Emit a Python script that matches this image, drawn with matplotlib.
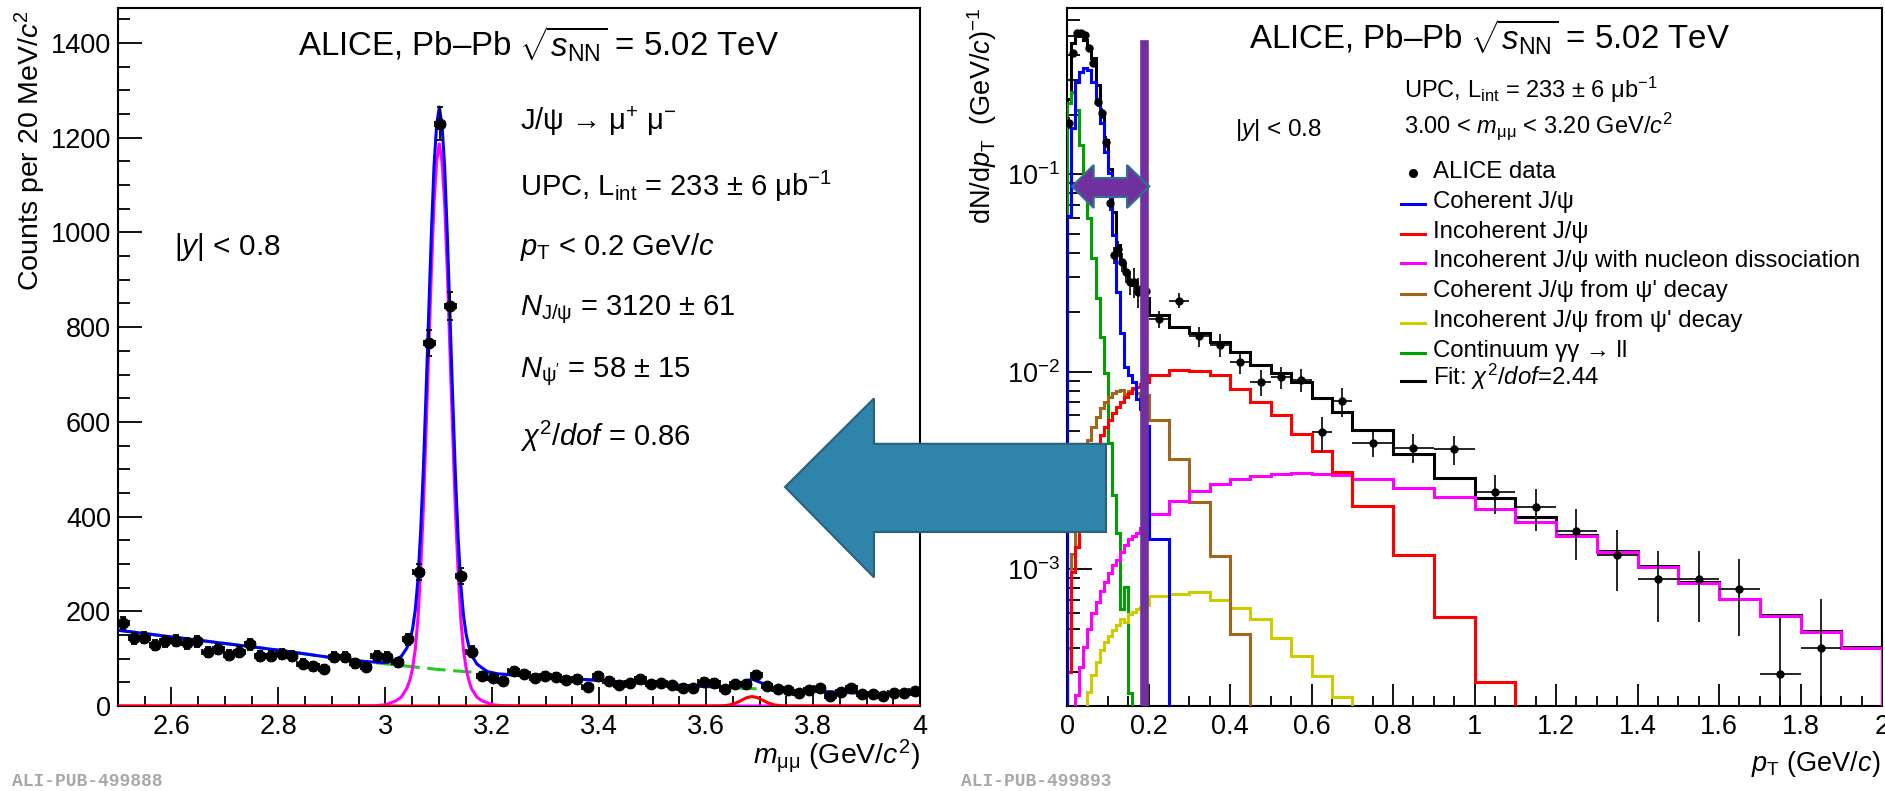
import numpy as np
import matplotlib
matplotlib.use("Agg")
import matplotlib.pyplot as plt
from matplotlib.lines import Line2D
from matplotlib.patches import Polygon
from matplotlib.ticker import (MultipleLocator, FormatStrFormatter, LogLocator,
                               LogFormatterMathtext, NullFormatter)

W, H = 1885, 791

plt.rcParams['font.family'] = ['Liberation Sans', 'DejaVu Sans']
plt.rcParams['mathtext.fontset'] = 'custom'
plt.rcParams['mathtext.rm'] = 'Liberation Sans'
plt.rcParams['mathtext.it'] = 'Liberation Sans:italic'
plt.rcParams['mathtext.bf'] = 'Liberation Sans:bold'


## LEFT PANEL : invariant mass

m_lo, m_hi, n_bins = 2.5, 4.0, 76

counts = [175, 143, 144, 129, 137, 138, 132, 137, 114, 120, 108, 115, 130, 106,
          106, 109, 106, 89, 84, 78, 104, 103, 90, 82, 106, 103, 92, 141,
          284, 767, 1230, 845, 275, 115,
          63, 60, 53,
          74, 68, 60, 63, 62, 55, 58, 41, 64, 53, 44, 48, 56, 46, 48, 44, 37,
          39, 51, 49, 35, 46, 46, 65, 42, 35, 34, 28, 34, 37, 22, 30, 39, 25,
          25, 21, 27, 27, 32]
counts_err = [13.2, 12, 12, 11.4, 11.7, 11.7, 11.5, 11.7, 10.7, 11, 10.4, 10.7,
              11.4, 10.3, 10.3, 10.4, 10.3, 9.4, 9.2, 8.8, 10.2, 10.1, 9.5, 9.1,
              10.3, 10.1, 9.6, 11.9, 16.9, 27.7, 35.1, 29.1, 16.6, 10.7,
              7.9, 7.7, 7.3, 8.6, 8.2, 7.7, 7.9, 7.9, 7.4, 7.6, 6.4, 8, 7.3, 6.6,
              6.9, 7.5, 6.8, 6.9, 6.6, 6.1, 6.2, 7.1, 7, 5.9, 6.8, 6.8, 8.1, 6.5,
              5.9, 5.8, 5.3, 5.8, 6.1, 4.7, 5.5, 6.2, 5, 5, 4.6, 5.2, 5.2, 5.7]

# background (green dashed)
bg_m = [2.5, 2.6, 2.7, 2.8, 2.9, 3.0, 3.1, 3.2, 3.3, 3.4, 3.5, 3.6, 3.7, 3.8, 3.9, 4.0]
bg_c = [160, 146, 132, 118, 102, 89, 77, 68, 61, 54, 47, 41, 36, 31, 27, 24]

# J/psi signal (magenta)
jpsi_m = [2.5, 2.96, 2.98, 3.00, 3.02, 3.03, 3.04, 3.046, 3.051, 3.056, 3.061,
          3.066, 3.071, 3.076, 3.081, 3.086, 3.091, 3.096, 3.101, 3.106, 3.111,
          3.116, 3.121, 3.126, 3.131, 3.136, 3.141, 3.146, 3.151, 3.156, 3.161,
          3.171, 3.181, 3.201, 3.221, 3.25, 4.0]
jpsi_c = [0, 0.3, 0.6, 2.5, 11, 19, 37, 55, 80, 120, 185, 285, 415, 575, 745,
          915, 1060, 1150, 1187, 1150, 1060, 915, 745, 575, 415, 285, 185, 120,
          80, 55, 37, 19, 11, 2.5, 0.6, 0, 0]

# psi(2S) signal (red)
psi2s_m = [2.5, 3.61, 3.626, 3.636, 3.646, 3.656, 3.666, 3.676, 3.686, 3.696,
           3.706, 3.716, 3.726, 3.736, 3.746, 3.76, 4.0]
psi2s_c = [0, 0, 0.2, 0.9, 2.7, 6.5, 12, 17.6, 20, 17.6, 12, 6.5, 2.7, 0.9, 0.2, 0, 0]

# total fit (blue)
total_m = [2.5, 2.6, 2.7, 2.8, 2.9, 2.96, 3.0, 3.02, 3.03, 3.04, 3.046, 3.051,
           3.056, 3.061, 3.066, 3.071, 3.076, 3.081, 3.086, 3.091, 3.096, 3.101,
           3.106, 3.111, 3.116, 3.121, 3.126, 3.131, 3.136, 3.141, 3.146, 3.151,
           3.156, 3.161, 3.171, 3.181, 3.191, 3.21, 3.3, 3.4, 3.5, 3.6, 3.626,
           3.646, 3.666, 3.686, 3.706, 3.726, 3.746, 3.8, 3.9, 4.0]
total_c = [160, 146, 132, 118, 102, 94, 91.5, 98, 105, 122, 139, 163, 203, 267,
           367, 496, 656, 825, 994, 1139, 1228, 1265, 1227, 1137, 991, 821, 650,
           490, 359, 258, 193, 152, 127, 108, 89, 80.5, 72.6, 68, 61, 54, 47, 41,
           40, 41.4, 49.7, 56.7, 47.7, 37.4, 33.9, 31, 27, 24]


## RIGHT PANEL : pT distribution

pt_edges = np.round(np.concatenate([np.arange(0, 0.2001, 0.01),
                                    np.arange(0.25, 0.7001, 0.05),
                                    np.arange(0.8, 2.0001, 0.1)]), 3)

h_coh = [0.061, 0.171, 0.294, 0.330, 0.344, 0.335, 0.294, 0.233, 0.181, 0.130,
         0.101, 0.0492, 0.0254, 0.0156, 0.0106, 0.0096, 0.0089, 0.0073, 0.0065, 0.0053,
         0.00143, 0, 0, 0, 0, 0, 0, 0, 0, 0,
         0, 0, 0, 0, 0, 0, 0, 0, 0, 0, 0, 0, 0]
h_incoh = [3.0e-4, 9.7e-4, 1.3e-3, 1.7e-3, 2.2e-3, 2.8e-3, 3.4e-3, 4.1e-3, 4.77e-3, 5.26e-3,
           5.69e-3, 6.15e-3, 6.59e-3, 7.04e-3, 7.41e-3, 7.82e-3, 8.22e-3, 8.4e-3, 8.7e-3, 8.9e-3,
           9.6e-3, 0.0102, 0.0101, 9.6e-3, 8.2e-3, 7.0e-3, 6.05e-3, 4.84e-3, 3.95e-3, 3.1e-3,
           2.1e-3, 1.18e-3, 5.75e-4, 2.68e-4, 0, 0, 0, 0, 0, 0, 0, 0, 0]
h_diss = [0, 0, 2.3e-4, 3.2e-4, 4.05e-4, 5.0e-4, 5.97e-4, 6.84e-4, 7.78e-4, 8.64e-4,
          9.6e-4, 1.05e-3, 1.11e-3, 1.22e-3, 1.32e-3, 1.42e-3, 1.47e-3, 1.53e-3, 1.61e-3, 1.67e-3,
          1.9e-3, 2.22e-3, 2.48e-3, 2.7e-3, 2.87e-3, 2.97e-3, 3.03e-3, 3.07e-3, 3.04e-3, 2.99e-3,
          2.85e-3, 2.59e-3, 2.31e-3, 2.01e-3, 1.74e-3, 1.47e-3, 1.22e-3, 1.03e-3, 8.53e-4,
          7.03e-4, 5.81e-4, 4.82e-4, 4.0e-4]
h_coh_feed = [4e-4, 1.2e-3, 1.9e-3, 2.6e-3, 3.5e-3, 4.5e-3, 5.26e-3, 5.91e-3, 6.52e-3, 7.04e-3,
              7.46e-3, 7.82e-3, 8.0e-3, 8.1e-3, 7.7e-3, 8.0e-3, 8.2e-3, 7.8e-3, 7.4e-3, 7.6e-3,
              5.69e-3, 3.6e-3, 2.18e-3, 1.16e-3, 4.69e-4, 0, 0, 0, 0, 0,
              0, 0, 0, 0, 0, 0, 0, 0, 0, 0, 0, 0, 0]
h_incoh_feed = [0, 0, 0, 0, 0, 2.4e-4, 2.9e-4, 3.4e-4, 3.9e-4, 4.3e-4,
                4.6e-4, 4.9e-4, 5.2e-4, 5.6e-4, 5.4e-4, 5.9e-4, 6.1e-4, 6.3e-4, 6.4e-4, 6.6e-4,
                7.31e-4, 7.53e-4, 7.69e-4, 6.98e-4, 6.33e-4, 5.57e-4, 4.46e-4, 3.63e-4, 2.88e-4, 2.25e-4,
                0, 0, 0, 0, 0, 0, 0, 0, 0, 0, 0, 0, 0]
h_gg = [0.23, 0.261, 0.211, 0.140, 0.0916, 0.0597, 0.0375, 0.0235, 0.0150, 0.0098,
        0.00433, 0.00237, 0.00152, 0.00063, 0.000815, 0.000235, 0, 0, 0, 0,
        0, 0, 0, 0, 0, 0, 0, 0, 0, 0,
        0, 0, 0, 0, 0, 0, 0, 0, 0, 0, 0, 0, 0]
h_fit = [0.24, 0.459, 0.502, 0.50, 0.477, 0.434, 0.386, 0.282, 0.207, 0.149,
         0.106, 0.064, 0.0438, 0.036, 0.0315, 0.0291, 0.0274, 0.0259, 0.0249, 0.0235,
         0.0194, 0.0169, 0.0156, 0.0142, 0.0126, 0.0108, 0.0098, 0.0089, 0.00733, 0.00627,
         0.00506, 0.00383, 0.0029, 0.00228, 0.00184, 0.00149, 0.00124, 0.00104, 0.00086,
         0.00071, 0.000585, 0.000485, 0.000402]

pt_val = [0.182, 0.409, 0.516, 0.516, 0.506, 0.434, 0.364, 0.231, 0.203, 0.146,
          0.0711, 0.0389, 0.042, 0.036, 0.0321, 0.0285, 0.0285, 0.0254, 0.0264, 0.0256,
          0.0185, 0.0229, 0.0151, 0.0137, 0.0112, 0.00887, 0.0094, 0.0091, 0.00492, 0.0071,
          0.00433, 0.00413, 0.00406, 0.00246, 0.00206, 0.00156, 0.00118, 0.000889,
          0.000889, 0.000791, 0.000296, 0.000397]
pt_err = [0.012, 0.018, 0.02, 0.02, 0.02, 0.018, 0.016, 0.013, 0.012, 0.01,
          0.006, 0.004, 0.004, 0.004, 0.004, 0.004, 0.005, 0.0045, 0.0045, 0.004,
          0.0018, 0.002, 0.0018, 0.0018, 0.0015, 0.0013, 0.0012, 0.0012, 0.001, 0.0012,
          0.00065, 0.0007, 0.00068, 0.00055, 0.0005, 0.00045, 0.0004, 0.00035,
          0.00035, 0.00033, 0.00028, 0.00031]

legend_labels = ["ALICE data", "Coherent J/ψ", "Incoherent J/ψ",
                 "Incoherent J/ψ with nucleon dissociation",
                 "Coherent J/ψ from ψ' decay", "Incoherent J/ψ from ψ' decay",
                 "Continuum γγ → ll", r"Fit: $\chi^{2}/dof$=2.44"]


## FIGURE

def fx(px):
    return px / W


def fy(py):
    return 1 - py / H


fig = plt.figure(figsize=(W / 100, H / 100), dpi=100)
ax1 = fig.add_axes([fx(118), fy(706), (920 - 118) / W, 698 / H])
ax2 = fig.add_axes([fx(1067), fy(706), (1882 - 1067) / W, 698 / H])

# left panel
edges = np.linspace(m_lo, m_hi, n_bins + 1)
centers = 0.5 * (edges[:-1] + edges[1:])
half = 0.5 * (edges[1] - edges[0])

ax1.plot(bg_m, bg_c, color="#22cc22", lw=2.2, ls=(0, (6, 2.5)), zorder=2)
ax1.plot(jpsi_m, jpsi_c, color="#ff00ff", lw=2.2, zorder=3)
ax1.plot(total_m, total_c, color="#0000ff", lw=2.2, zorder=4)
ax1.plot(psi2s_m, psi2s_c, color="#ff0000", lw=2.2, zorder=5)
ax1.errorbar(centers, counts, yerr=counts_err, xerr=half, fmt="o", color="black",
             ms=7.5, elinewidth=1.3, capsize=2.2, capthick=1.3, zorder=6)

ax1.set_xlim(m_lo, m_hi)
ax1.set_ylim(0, 1474)
ax1.xaxis.set_major_locator(MultipleLocator(0.2))
ax1.xaxis.set_minor_locator(MultipleLocator(0.05))
ax1.xaxis.set_major_formatter(FormatStrFormatter("%g"))
ax1.yaxis.set_major_locator(MultipleLocator(200))
ax1.yaxis.set_minor_locator(MultipleLocator(50))
ax1.tick_params(axis="both", which="both", direction="in", top=False, right=False,
                labelsize=19.5, width=1.3)
ax1.tick_params(axis="y", which="major", length=17, pad=5)
ax1.tick_params(axis="y", which="minor", length=8.5)
ax1.tick_params(axis="x", which="major", length=14, pad=6)
ax1.tick_params(axis="x", which="minor", length=7)

# right panel
fl = 1e-6  # empty bins drawn below the axis
pt_c = 0.5 * (pt_edges[:-1] + pt_edges[1:])[:len(pt_val)]
pt_w = 0.5 * (pt_edges[1:] - pt_edges[:-1])[:len(pt_val)]

ax2.stairs(np.clip(h_fit, fl, None), pt_edges, baseline=fl, color="black", lw=2.2, zorder=2)
ax2.stairs(np.clip(h_gg, fl, None), pt_edges, baseline=fl, color="#00a000", lw=2.2, zorder=3)
ax2.stairs(np.clip(h_incoh_feed, fl, None), pt_edges, baseline=fl, color="#cccc00", lw=2.2, zorder=3)
ax2.stairs(np.clip(h_coh_feed, fl, None), pt_edges, baseline=fl, color="#a0661c", lw=2.2, zorder=3)
ax2.stairs(np.clip(h_diss, fl, None), pt_edges, baseline=fl, color="#ff00ff", lw=2.2, zorder=3)
ax2.stairs(np.clip(h_incoh, fl, None), pt_edges, baseline=fl, color="#ff0000", lw=2.2, zorder=3)
ax2.stairs(np.clip(h_coh, fl, None), pt_edges, baseline=fl, color="#0000ff", lw=2.2, zorder=3)
ax2.errorbar(pt_c, pt_val, yerr=pt_err, xerr=pt_w, fmt="o", color="black",
             ms=5, elinewidth=1.2, zorder=5)

ax2.set_yscale("log")
ax2.set_xlim(0, 2)
ax2.set_ylim(2.03e-4, 0.693)
ax2.xaxis.set_major_locator(MultipleLocator(0.2))
ax2.xaxis.set_minor_locator(MultipleLocator(0.05))
ax2.xaxis.set_major_formatter(FormatStrFormatter("%g"))
ax2.yaxis.set_major_locator(LogLocator(base=10, numticks=10))
ax2.yaxis.set_major_formatter(LogFormatterMathtext())
ax2.yaxis.set_minor_locator(LogLocator(base=10, subs=np.arange(2, 10), numticks=20))
ax2.yaxis.set_minor_formatter(NullFormatter())
ax2.tick_params(axis="both", which="both", direction="in", top=False, right=False,
                labelsize=19.5, width=1.3)
ax2.tick_params(axis="y", which="major", length=18, pad=5)
ax2.tick_params(axis="y", which="minor", length=9)
ax2.tick_params(axis="x", which="major", length=16, pad=6)
ax2.tick_params(axis="x", which="minor", length=7)

for ax in (ax1, ax2):
    for s in ax.spines.values():
        s.set_linewidth(1.5)

# purple marker of the pT cut
ax2.axvline(0.188, ymin=0, ymax=(706 - 44) / 698, color="#7030a0", lw=6.2, zorder=7)

# texts, left
fig.text(fx(298), fy(56.5), r"ALICE, Pb–Pb $\sqrt{s_{\mathrm{NN}}}$ = 5.02 TeV", size=23.8, va="baseline")
fig.text(fx(520), fy(130), r"J/ψ → μ$^{+}$ μ$^{-}$", size=21, va="baseline")
fig.text(fx(520), fy(195.7), r"UPC, L$_{\mathrm{int}}$ = 233 ± 6 μb$^{\mathrm{-1}}$", size=21, va="baseline")
fig.text(fx(520), fy(254.7), r"$p_{\mathrm{T}}$ < 0.2 GeV/$c$", size=21, va="baseline")
fig.text(fx(520), fy(315), r"$N_{\mathrm{J/\psi}}$ = 3120 ± 61", size=21, va="baseline")
fig.text(fx(520), fy(377), r"$N_{\mathrm{\psi}'}$ = 58 ± 15", size=21, va="baseline")
fig.text(fx(520), fy(446), r"$\chi^{2}/dof$ = 0.86", size=21, va="baseline")
fig.text(fx(174), fy(254.7), r"|$y$| < 0.8", size=21.5, va="baseline")
fig.text(fx(30), fy(10), r"Counts per 20 MeV/$c^{2}$", size=20.5, rotation=90, ha="center", va="top")
fig.text(fx(920), fy(756), r"$m_{\mathrm{\mu\mu}}$ (GeV/$c^{2}$)", size=20.5, ha="right", va="center")

# texts, right
fig.text(fx(1248.6), fy(49), r"ALICE, Pb–Pb $\sqrt{s_{\mathrm{NN}}}$ = 5.02 TeV", size=23.8, va="baseline")
fig.text(fx(1404), fy(97.4), r"UPC, L$_{\mathrm{int}}$ = 233 ± 6 μb$^{\mathrm{-1}}$", size=17, va="baseline")
fig.text(fx(1404), fy(132.7), r"3.00 < $m_{\mathrm{\mu\mu}}$ < 3.20 GeV/$c^{2}$", size=17, va="baseline")
fig.text(fx(1235.4), fy(136.2), r"|$y$| < 0.8", size=17.5, va="baseline")
fig.text(fx(982), fy(8), r"dN/d$p_{\mathrm{T}}$  (GeV/$c$)$^{-1}$", size=19.5, rotation=90, ha="center", va="top")
fig.text(fx(1880), fy(764), r"$p_{\mathrm{T}}$ (GeV/$c$)", size=19.5, ha="right", va="center")

# legend, right
leg_colors = [None, "#0000ff", "#ff0000", "#ff00ff", "#a0661c", "#cccc00", "#00a000", "black"]
leg_base = [178, 208, 238, 267, 297.5, 327, 357, 385]
for lab, col, yb in zip(legend_labels, leg_colors, leg_base):
    fig.text(fx(1433), fy(yb), lab, size=17.3, va="baseline")
    if col is None:
        fig.add_artist(Line2D([fx(1413)], [fy(yb - 5)], marker="o", ms=5.5, color="black"))
    else:
        fig.add_artist(Line2D([fx(1401), fx(1425)], [fy(yb - 4), fy(yb - 4)], color=col, lw=2.2))

# watermarks
fig.text(fx(12), fy(782), "ALI-PUB-499888", family="Liberation Mono", weight="bold",
         color="#a8a8a8", size=13, va="center")
fig.text(fx(961), fy(782), "ALI-PUB-499893", family="Liberation Mono", weight="bold",
         color="#a8a8a8", size=13, va="center")

# big teal arrow and purple double arrow
big_arrow = [(785, 487), (874, 398.4), (874, 443.8), (1106, 443.8), (1106, 532),
             (874, 532), (874, 577.4)]
fig.add_artist(Polygon([(fx(a), fy(b)) for a, b in big_arrow], closed=True,
                       facecolor="#2e84aa", edgecolor="#2b617a", lw=1.5, zorder=10))
dbl_arrow = [(1072, 186.5), (1093.7, 165), (1093.7, 178), (1127, 178), (1127, 165),
             (1149.3, 186.5), (1127, 208), (1127, 197), (1093.7, 197), (1093.7, 208)]
fig.add_artist(Polygon([(fx(a), fy(b)) for a, b in dbl_arrow], closed=True,
                       facecolor="#7030a0", edgecolor="#31708a", lw=1.5, zorder=11))

fig.savefig("out.png", dpi=100)
